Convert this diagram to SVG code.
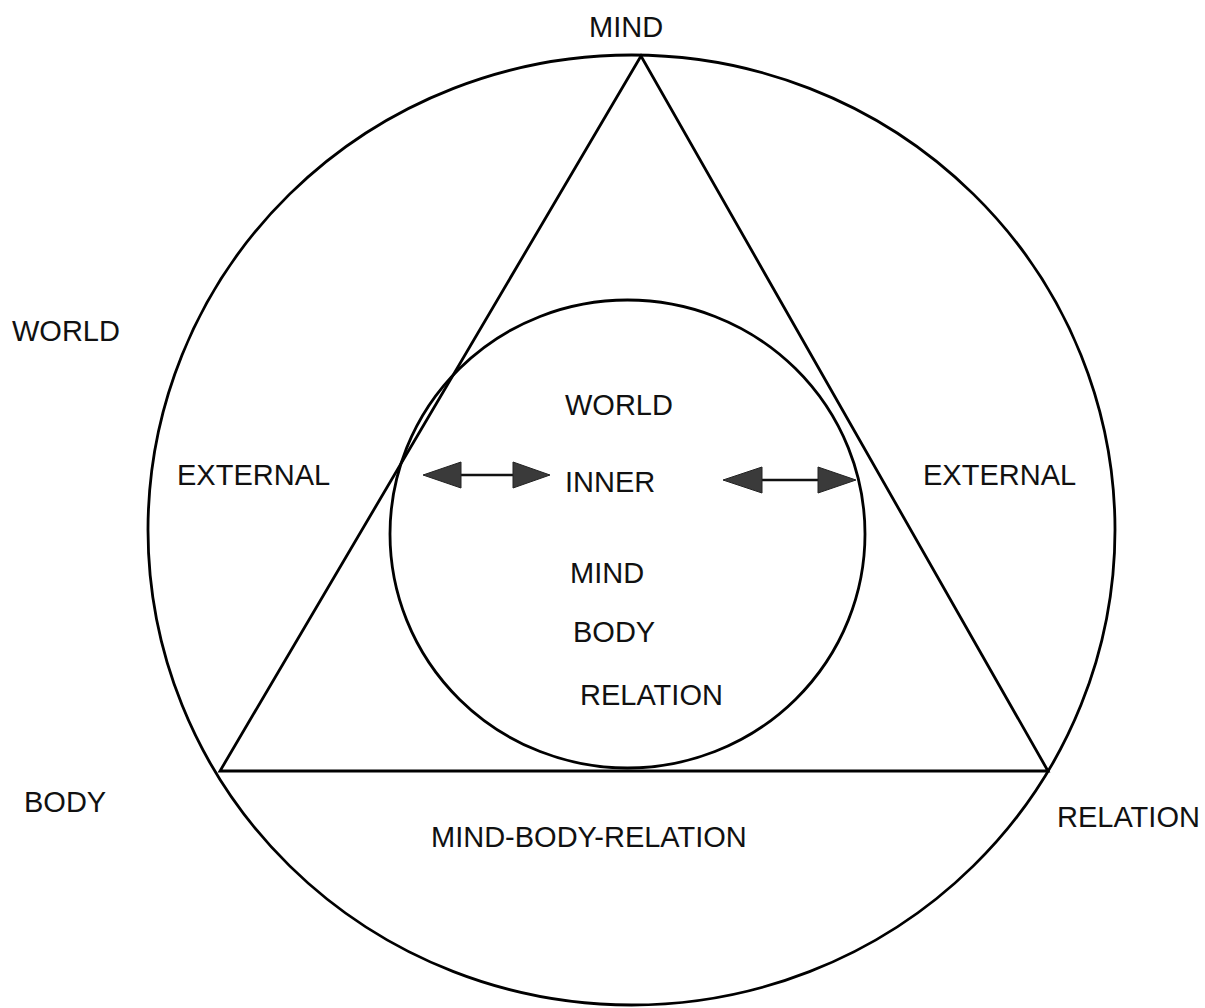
<svg xmlns="http://www.w3.org/2000/svg" width="1205" height="1008" viewBox="0 0 1205 1008">
<style>
.ln{fill:none;stroke:#000;stroke-width:2.8}
.t{font-family:"Liberation Sans",Arial,sans-serif;font-size:29px;fill:#111}
.arr{stroke:#111;stroke-width:2.5}
.hd{fill:#3a3a3a;stroke:#222;stroke-width:1}
</style>
<rect width="1205" height="1008" fill="#fff"/>
<g id="outer-circle"><ellipse class="ln" cx="631.5" cy="530" rx="483.5" ry="475"/></g>
<g id="triangle"><polygon class="ln" points="641,56 220,771 1048,771" stroke-linejoin="miter"/></g>
<g id="inner-circle"><ellipse class="ln" cx="627.5" cy="534" rx="237.5" ry="234"/></g>
<g id="connectors">
<g id="arrow-left">
<line class="arr" x1="455" y1="475" x2="518" y2="475"/>
<polygon class="hd" points="423,475 461,462 461,488"/>
<polygon class="hd" points="550,475 513,462 513,488"/>
</g>
<g id="arrow-right">
<line class="arr" x1="757" y1="480" x2="823" y2="480"/>
<polygon class="hd" points="723,480 762,467 762,493"/>
<polygon class="hd" points="856,480 818,467 818,493"/>
</g>
</g>
<g id="labels">
<text class="t" x="589" y="37">MIND</text>
<text class="t" x="12" y="341">WORLD</text>
<text class="t" x="177" y="485">EXTERNAL</text>
<text class="t" x="923" y="485">EXTERNAL</text>
<text class="t" x="24" y="812">BODY</text>
<text class="t" x="1057" y="827">RELATION</text>
<text class="t" x="431" y="847">MIND-BODY-RELATION</text>
<text class="t" x="565" y="415">WORLD</text>
<text class="t" x="565" y="492">INNER</text>
<text class="t" x="570" y="583">MIND</text>
<text class="t" x="573" y="642">BODY</text>
<text class="t" x="580" y="705">RELATION</text>
</g>
</svg>
